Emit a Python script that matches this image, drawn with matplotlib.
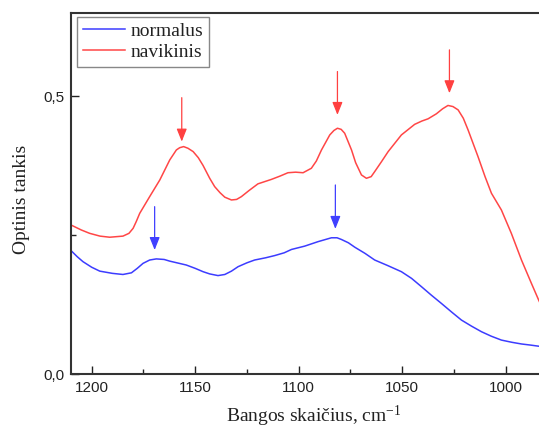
import matplotlib
matplotlib.use("Agg")
import matplotlib.pyplot as plt
from matplotlib.ticker import FixedLocator, FuncFormatter

plt.rcParams["mathtext.fontset"] = "custom"
plt.rcParams["mathtext.rm"] = "Liberation Serif"
plt.rcParams["mathtext.it"] = "Liberation Serif:italic"

# Wavenumbers (cm^-1) and optical density for the two spectra
wn_nav = [1210, 1205, 1201, 1196, 1191.3, 1184.9, 1182, 1180, 1178.5, 1176.8,
          1172, 1167.1, 1162.3, 1159.1, 1157.5, 1155.6, 1153.5, 1151, 1148.5,
          1146.2, 1143, 1140.6, 1138, 1135.7, 1132.5, 1130, 1127.7, 1124,
          1119.7, 1113.2, 1109, 1105.2, 1101.5, 1097.9, 1093.9, 1091.5, 1089,
          1085, 1083, 1081.3, 1079.5, 1077.8, 1074.5, 1072.5, 1069.7, 1067.3,
          1065, 1063.3, 1060, 1056.8, 1050.4, 1044, 1040.5, 1037.5, 1033.5,
          1030.5, 1027.9, 1025.5, 1023, 1020.5, 1018.2, 1013.4, 1010, 1006.9,
          1002.1, 997.3, 992.4, 987.6, 984.1, 980]
od_nav = [0.268, 0.259, 0.253, 0.248, 0.246, 0.248, 0.253, 0.262, 0.274,
          0.289, 0.319, 0.349, 0.385, 0.403, 0.407, 0.409, 0.406, 0.400,
          0.389, 0.375, 0.352, 0.337, 0.326, 0.318, 0.313, 0.314, 0.319,
          0.330, 0.342, 0.350, 0.356, 0.362, 0.363, 0.362, 0.370, 0.383,
          0.403, 0.430, 0.438, 0.442, 0.440, 0.433, 0.403, 0.380, 0.358,
          0.352, 0.355, 0.364, 0.382, 0.400, 0.430, 0.449, 0.455, 0.459,
          0.468, 0.477, 0.483, 0.481, 0.475, 0.460, 0.439, 0.391, 0.355,
          0.325, 0.295, 0.253, 0.205, 0.163, 0.133, 0.100]

wn_norm = [1210, 1207, 1204.2, 1200, 1196.1, 1190, 1184.9, 1180.8, 1178,
           1175.2, 1172, 1168.8, 1165, 1162.3, 1154.3, 1150, 1146.2, 1143,
           1139, 1135.7, 1132.5, 1129.3, 1125, 1121.3, 1116, 1111.6, 1107,
           1103.5, 1097.1, 1090.7, 1087, 1084.2, 1081.5, 1079.4, 1076,
           1072.9, 1068, 1063.3, 1057, 1050.4, 1045.5, 1040.7, 1036, 1031.1,
           1026, 1021.4, 1016.5, 1011.7, 1007, 1002.1, 997, 992.4, 988,
           984.1, 980]
od_norm = [0.222, 0.211, 0.202, 0.192, 0.185, 0.181, 0.179, 0.182, 0.190,
           0.199, 0.205, 0.207, 0.206, 0.203, 0.196, 0.190, 0.184, 0.180,
           0.177, 0.179, 0.185, 0.193, 0.200, 0.205, 0.209, 0.213, 0.218,
           0.224, 0.230, 0.238, 0.242, 0.245, 0.245, 0.242, 0.236, 0.228,
           0.217, 0.205, 0.195, 0.184, 0.172, 0.157, 0.142, 0.127, 0.111,
           0.097, 0.086, 0.076, 0.068, 0.061, 0.057, 0.054, 0.052, 0.050,
           0.049]

# Peak markers: x position, arrow tail, arrow tip
red_arrow_x = [1156.5, 1081.3, 1027.2]
red_arrow_from = [0.497, 0.544, 0.583]
red_arrow_to = [0.418, 0.466, 0.505]
blue_arrow_x = [1169.6, 1082.3]
blue_arrow_from = [0.301, 0.340]
blue_arrow_to = [0.223, 0.261]

x_major = [1200, 1150, 1100, 1050, 1000]
x_minor = [1175, 1125, 1075, 1025]
y_major = [0.0, 0.5]
y_minor = [0.25]

BLUE = "#3c3cff"
RED = "#ff4646"

fig = plt.figure(figsize=(5.39, 4.28), dpi=100)
ax = fig.add_axes([71 / 539, 1 - 374 / 428, 486.5 / 539, 361.4 / 428])

ax.plot(wn_norm, od_norm, color=BLUE, lw=1.1, label="normalus")
ax.plot(wn_nav, od_nav, color=RED, lw=1.1, label="navikinis")

for x, y0, y1 in zip(red_arrow_x, red_arrow_from, red_arrow_to):
    ax.annotate("", xy=(x, y1), xytext=(x, y0),
                arrowprops=dict(arrowstyle="-|>,head_length=0.55,head_width=0.22",
                                color="#ff4040", lw=0.9,
                                mutation_scale=14, shrinkA=0, shrinkB=0))
for x, y0, y1 in zip(blue_arrow_x, blue_arrow_from, blue_arrow_to):
    ax.annotate("", xy=(x, y1), xytext=(x, y0),
                arrowprops=dict(arrowstyle="-|>,head_length=0.55,head_width=0.22",
                                color="#4040ff", lw=0.9,
                                mutation_scale=14, shrinkA=0, shrinkB=0))

ax.set_xlim(1210, 975)
ax.set_ylim(0, 0.65)

ax.xaxis.set_major_locator(FixedLocator(x_major))
ax.xaxis.set_minor_locator(FixedLocator(x_minor))
ax.yaxis.set_major_locator(FixedLocator(y_major))
ax.yaxis.set_minor_locator(FixedLocator(y_minor))
ax.yaxis.set_major_formatter(FuncFormatter(lambda v, p: f"{v:.1f}".replace(".", ",")))

sans = ["Liberation Sans", "DejaVu Sans"]
serif = ["Liberation Serif", "DejaVu Serif"]
ax.tick_params(which="both", direction="in", width=1.0, color="#222222",
               top=False, right=False, labelsize=11, pad=5)
ax.tick_params(which="major", length=6)
ax.tick_params(which="minor", length=3.5)
for lbl in ax.get_xticklabels() + ax.get_yticklabels():
    lbl.set_fontfamily(sans)
    lbl.set_color("#222222")

for side in ["left", "bottom", "top", "right"]:
    ax.spines[side].set_linewidth(1.5)
    ax.spines[side].set_color("#333333")

ax.set_xlabel("Bangos skaičius, cm$^{-1}$", family=serif, fontsize=14,
              color="#222222", labelpad=6.5)
ax.set_ylabel("Optinis tankis", family=serif, fontsize=14,
              color="#222222", labelpad=9)
ax.yaxis.label.set_y(0.482)

leg = ax.legend(loc="upper left", bbox_to_anchor=(0.013, 0.988),
                prop={"family": serif, "size": 14}, frameon=True,
                fancybox=False, framealpha=1, edgecolor="#888888",
                handlelength=2.15, handletextpad=0.3, labelspacing=0.18,
                borderpad=0.28, borderaxespad=0.0)
leg.get_frame().set_linewidth(1.0)
for t in leg.get_texts():
    t.set_color("#222222")

fig.savefig("out.png", dpi=100)
